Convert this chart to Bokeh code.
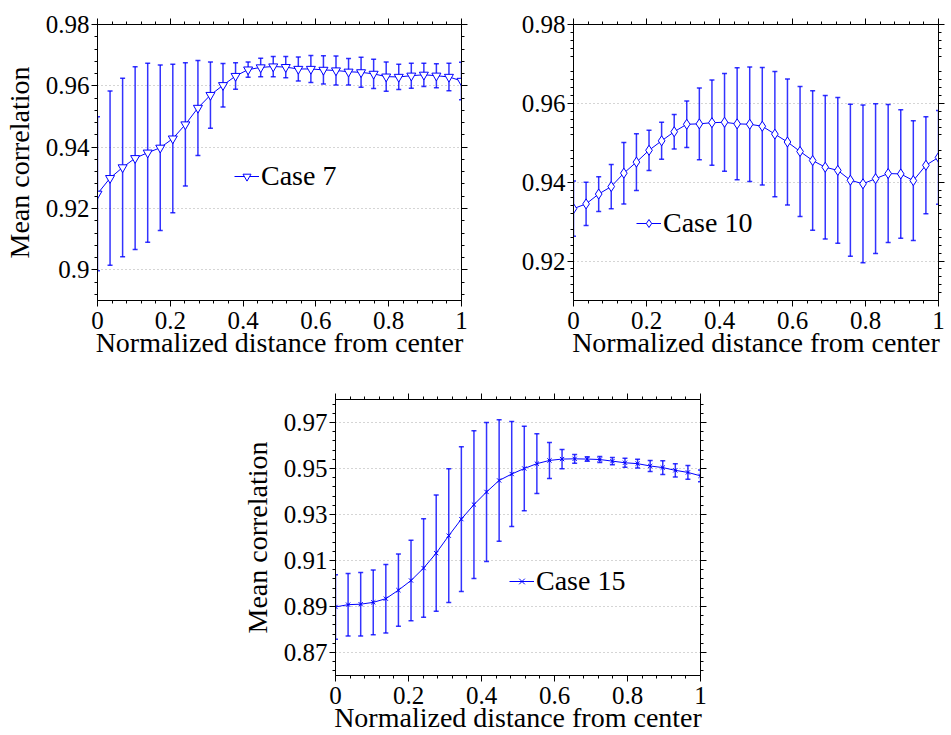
from bokeh.plotting import figure
from bokeh.models import (ColumnDataSource, Whisker, TeeHead, FixedTicker, LinearAxis, Grid,
                          CustomJSTickFormatter, Legend, LegendItem, Range1d, Spacer)
from bokeh.layouts import column, row
from bokeh.embed import file_html
from bokeh.resources import INLINE

# ---------------- data ----------------
distance = [0.0, 0.0345, 0.0690, 0.1034, 0.1379, 0.1724, 0.2069, 0.2414, 0.2759, 0.3103,
            0.3448, 0.3793, 0.4138, 0.4483, 0.4828, 0.5172, 0.5517, 0.5862, 0.6207, 0.6552,
            0.6897, 0.7241, 0.7586, 0.7931, 0.8276, 0.8621, 0.8966, 0.9310, 0.9655, 1.0]

case7_mean = [0.9248, 0.9299, 0.9334, 0.9364, 0.9382, 0.9398, 0.9428, 0.9474, 0.9528, 0.9570,
              0.9602, 0.9632, 0.9653, 0.9660, 0.9663, 0.9661, 0.9655, 0.9655, 0.9652, 0.9650,
              0.9646, 0.9644, 0.9639, 0.9630, 0.9629, 0.9633, 0.9636, 0.9633, 0.9629, 0.9616]
case7_err = [0.0251, 0.0284, 0.0291, 0.0298, 0.0292, 0.0270, 0.0242, 0.0201, 0.0155, 0.0108,
             0.0071, 0.0043, 0.0025, 0.0030, 0.0033, 0.0035, 0.0039, 0.0044, 0.0046, 0.0047,
             0.0043, 0.0049, 0.0048, 0.0048, 0.0041, 0.0041, 0.0038, 0.0039, 0.0045, 0.0061]

case10_mean = [0.9333, 0.9345, 0.9370, 0.9389, 0.9423, 0.9451, 0.9481, 0.9505, 0.9528, 0.9547,
               0.9548, 0.9551, 0.9552, 0.9548, 0.9547, 0.9542, 0.9522, 0.9502, 0.9478, 0.9455,
               0.9438, 0.9430, 0.9405, 0.9396, 0.9409, 0.9422, 0.9421, 0.9404, 0.9443, 0.9463]
case10_err = [0.0070, 0.0055, 0.0044, 0.0056, 0.0078, 0.0072, 0.0051, 0.0047, 0.0044, 0.0059,
              0.0091, 0.0108, 0.0124, 0.0142, 0.0145, 0.0149, 0.0159, 0.0160, 0.0165, 0.0177,
              0.0182, 0.0185, 0.0193, 0.0200, 0.0190, 0.0175, 0.0163, 0.0152, 0.0123, 0.0119]

case15_mean = [0.8898, 0.8908, 0.8910, 0.8918, 0.8934, 0.8971, 0.9013, 0.9067, 0.9132, 0.9208,
               0.9280, 0.9343, 0.9398, 0.9448, 0.9476, 0.9500, 0.9521, 0.9535, 0.9541, 0.9542,
               0.9541, 0.9539, 0.9532, 0.9525, 0.9521, 0.9511, 0.9504, 0.9492, 0.9483, 0.9468]
case15_err = [0.0140, 0.0136, 0.0138, 0.0141, 0.0149, 0.0157, 0.0175, 0.0214, 0.0253, 0.0291,
              0.0315, 0.0321, 0.0302, 0.0264, 0.0228, 0.0184, 0.0130, 0.0078, 0.0042, 0.0019,
              0.0010, 0.0013, 0.0016, 0.0020, 0.0019, 0.0024, 0.0030, 0.0029, 0.0030, 0.0026]

x_major = [0, 0.2, 0.4, 0.6, 0.8, 1.0]
x_minor = [0.04, 0.08, 0.12, 0.16, 0.24, 0.28, 0.32, 0.36, 0.44, 0.48, 0.52, 0.56,
           0.64, 0.68, 0.72, 0.76, 0.84, 0.88, 0.92, 0.96]
y1_major = [0.90, 0.92, 0.94, 0.96, 0.98]
y1_minor = [0.892, 0.896, 0.904, 0.908, 0.912, 0.916, 0.924, 0.928, 0.932, 0.936,
            0.944, 0.948, 0.952, 0.956, 0.964, 0.968, 0.972, 0.976]
y2_major = [0.92, 0.94, 0.96, 0.98]
y2_minor = [0.912, 0.914, 0.916, 0.918, 0.922, 0.924, 0.926, 0.928, 0.932, 0.934, 0.936,
            0.938, 0.942, 0.944, 0.946, 0.948, 0.952, 0.954, 0.956, 0.958, 0.962, 0.964,
            0.966, 0.968, 0.972, 0.974, 0.976, 0.978]
y3_major = [0.87, 0.89, 0.91, 0.93, 0.95, 0.97]
y3_minor = [0.862, 0.866, 0.874, 0.878, 0.882, 0.886, 0.894, 0.898, 0.902, 0.906,
            0.914, 0.918, 0.922, 0.926, 0.934, 0.938, 0.942, 0.946, 0.954, 0.958,
            0.962, 0.966, 0.974, 0.978]

FONT = "'Liberation Serif', serif"
BLUE = "#0000ff"
fmt_code = "return Number(tick.toFixed(4)).toString();"


def style_axis(ax, show_labels):
    ax.axis_line_color = "black"
    ax.axis_line_width = 1
    ax.major_tick_line_color = "black"
    ax.minor_tick_line_color = "black"
    ax.major_tick_out = 6
    ax.major_tick_in = 0
    ax.minor_tick_out = 3
    ax.minor_tick_in = 0
    ax.major_label_text_font = FONT
    ax.major_label_text_font_size = "25px"
    ax.major_label_text_color = "black"
    ax.axis_label_text_font = FONT
    ax.axis_label_text_font_size = "28px"
    ax.axis_label_text_font_style = "normal"
    ax.axis_label_text_color = "black"
    if show_labels:
        ax.formatter = CustomJSTickFormatter(code=fmt_code)
        ax.major_label_standoff = 2
    else:
        ax.formatter = CustomJSTickFormatter(code="return '';")
        ax.major_label_standoff = 0
        ax.major_label_text_font_size = "1px"


def panel(mean, err, ylo, yhi, ymaj, ymin, marker, msize, label, legend_loc,
          width, height, bl, br, bt, bb, ylabel):
    p = figure(width=width, height=height, x_range=Range1d(0, 1), y_range=Range1d(ylo, yhi),
               output_backend="svg", toolbar_location=None,
               min_border_left=bl, min_border_right=br, min_border_top=bt, min_border_bottom=bb)
    p.xaxis.visible = False
    p.yaxis.visible = False
    p.outline_line_color = "black"
    p.outline_line_width = 1
    p.background_fill_color = "white"
    p.border_fill_color = "white"

    xt = FixedTicker(ticks=x_major, minor_ticks=x_minor)
    yt = FixedTicker(ticks=ymaj, minor_ticks=ymin)

    bottom = LinearAxis(ticker=xt, axis_label="Normalized distance from center")
    style_axis(bottom, True)
    bottom.major_label_standoff = 5
    bottom.axis_label_standoff = -5
    top = LinearAxis(ticker=xt)
    style_axis(top, False)
    left = LinearAxis(ticker=yt, axis_label=ylabel)
    style_axis(left, True)
    left.axis_label_standoff = 8
    right = LinearAxis(ticker=yt)
    style_axis(right, False)
    p.add_layout(bottom, "below")
    p.add_layout(top, "above")
    p.add_layout(left, "left")
    p.add_layout(right, "right")

    p.xgrid.visible = False
    p.ygrid.visible = False
    g = Grid(dimension=1, ticker=yt, grid_line_color="#aaaaaa", grid_line_dash="1 3",
             grid_line_width=1)
    p.add_layout(g)

    lower = [m - e for m, e in zip(mean, err)]
    upper = [m + e for m, e in zip(mean, err)]
    src = ColumnDataSource(dict(x=distance, y=mean, lower=lower, upper=upper))

    w = Whisker(source=src, base="x", lower="lower", upper="upper", dimension="height",
                line_color=BLUE, line_alpha=0.8, line_width=1.5,
                lower_head=TeeHead(size=5, line_color=BLUE, line_alpha=0.8, line_width=1.5),
                upper_head=TeeHead(size=5, line_color=BLUE, line_alpha=0.8, line_width=1.5))
    p.add_layout(w)

    lr = p.line("x", "y", source=src, line_color=BLUE, line_width=1)
    sr = p.scatter("x", "y", source=src, marker=marker, size=msize, line_color=BLUE,
                   fill_color="white", line_width=1)

    leg = Legend(items=[LegendItem(label=label, renderers=[lr, sr])], location=legend_loc,
                 padding=0, margin=0, spacing=0, glyph_width=25, glyph_height=20,
                 label_standoff=2, border_line_alpha=0, background_fill_alpha=0,
                 label_text_font=FONT, label_text_font_size="28px",
                 label_text_color="black")
    p.add_layout(leg)
    return p


p1 = panel(case7_mean, case7_err, 0.89, 0.98, y1_major, y1_minor, "inverted_triangle", 9,
           "Case 7", (137, 108), 470, 360, 97, 9, 24, 53, "Mean correlation")
p2 = panel(case10_mean, case10_err, 0.91, 0.98, y2_major, y2_minor, "diamond", 10,
           "Case 10", (63, 61), 481, 360, 103, 13, 24, 53, None)
p3 = panel(case15_mean, case15_err, 0.86, 0.98, y3_major, y3_minor, "x", 6,
           "Case 15", (174, 78), 482, 375, 97, 20, 39, 53, "Mean correlation")

layout = column(row(p1, p2), row(Spacer(width=238, height=375), p3))

with open("out.html", "w") as f:
    f.write(file_html(layout, INLINE))
